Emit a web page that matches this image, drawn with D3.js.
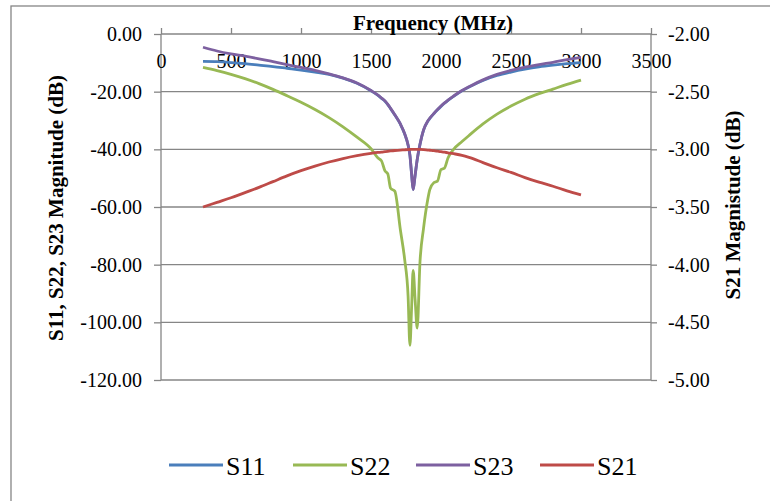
<!DOCTYPE html>
<html>
<head>
<meta charset="utf-8">
<script src="https://d3js.org/d3.v7.min.js"></script>
<style>
  body { margin: 0; background: #ffffff; }
  text { font-family: "Liberation Serif", "Times New Roman", serif; fill: #000; }
</style>
</head>
<body>
<div id="chart"></div>
<script>
// frequency points (MHz), shared by all series
var freqs = [300, 400, 500, 600, 700, 800, 900, 1000, 1100, 1200,
  1300, 1400, 1500, 1550, 1575, 1600, 1620, 1640, 1670, 1710,
  1740, 1765, 1778, 1790, 1801, 1815, 1830, 1850, 1875, 1905,
  1920, 1950, 1975, 2000, 2025, 2050, 2090, 2150, 2200, 2300,
  2400, 2500, 2600, 2700, 2800, 2900, 3000]

// S-parameters (dB)
var s11 = [-9.5, -9.6, -9.9, -10.3, -10.8, -11.3, -11.9, -12.5, -13.2, -14.0,
  -15.3, -17.1, -19.7, -21.3, -22.3, -23.3, -24.5, -25.9, -28.1, -31.3,
  -34.6, -38.6, -42.1, -48.6, -54.0, -49.1, -43.6, -38.3, -33.4, -30.3,
  -29.3, -27.6, -26.3, -25.1, -24.0, -23.0, -21.6, -19.7, -18.4, -16.1,
  -14.4, -13.2, -12.2, -11.4, -10.8, -10.3, -9.9]

var s22 = [-11.6, -12.7, -14.0, -15.5, -17.2, -19.2, -21.4, -23.7, -26.2, -29.0,
  -32.2, -35.8, -39.8, -43.0, -44.0, -47.5, -48.5, -53.5, -54.5, -68.0,
  -78.0, -91.0, -108.0, -95.0, -82.0, -92.0, -102.0, -79.0, -67.5, -57.5,
  -54.0, -51.5, -51.0, -47.0, -46.5, -43.0, -40.0, -37.3, -35.2, -31.2,
  -27.8, -25.0, -22.6, -20.7, -19.1, -17.5, -16.0]

var s23 = [-4.6, -5.9, -6.9, -7.7, -8.6, -9.6, -10.6, -11.6, -12.6, -13.8,
  -15.2, -17.0, -19.6, -21.2, -22.2, -23.2, -24.4, -25.8, -28.0, -31.2,
  -34.5, -38.5, -42.0, -48.5, -54.0, -49.0, -43.5, -38.2, -33.3, -30.2,
  -29.2, -27.5, -26.2, -25.0, -23.9, -22.9, -21.5, -19.6, -18.3, -15.9,
  -14.0, -12.6, -11.5, -10.6, -9.8, -8.9, -8.1]

// S21 is read against the right axis
var s21 = [-3.50, -3.46, -3.42, -3.375, -3.33, -3.28, -3.23, -3.185, -3.145, -3.11,
  -3.08, -3.055, -3.035, -3.027, -3.024, -3.02, -3.017, -3.014, -3.01, -3.006,
  -3.004, -3.002, -3.001, -3.0, -3.0, -3.0, -3.0, -3.001, -3.003, -3.006,
  -3.008, -3.012, -3.016, -3.02, -3.025, -3.03, -3.038, -3.052, -3.07, -3.115,
  -3.16, -3.20, -3.245, -3.285, -3.32, -3.36, -3.395]

// axis ticks
var xTicks = [0, 500, 1000, 1500, 2000, 2500, 3000, 3500]
var yLeftTicks = [0, -20, -40, -60, -80, -100, -120]
var yRightTicks = [-2, -2.5, -3, -3.5, -4, -4.5, -5]

var seriesNames = ["S11", "S22", "S23", "S21"]
var seriesColors = ["#4a7ebb", "#98b954", "#7d60a0", "#be4b48"]

var width = 770, height = 501
var plot = {left: 161, right: 651, top: 34, bottom: 380}

// plain hyphen for negatives, like the original
var loc = d3.formatLocale({decimal: ".", thousands: ",", grouping: [3], currency: ["", ""], minus: "-"})
var fmt2 = loc.format(".2f")

var svg = d3.select("#chart")
  .append("svg")
    .attr("width", width)
    .attr("height", height)

// outer chart frame (cut off by the picture on right and bottom)
svg.append("rect")
  .attr("x", 11).attr("y", 6)
  .attr("width", 820).attr("height", 540)
  .attr("fill", "none")
  .attr("stroke", "#868686")
  .attr("stroke-width", 1.3)

// scales
var x = d3.scaleLinear().domain([0, 3500]).range([plot.left, plot.right])
var yL = d3.scaleLinear().domain([-120, 0]).range([plot.bottom, plot.top])
var yR = d3.scaleLinear().domain([-5, -2]).range([plot.bottom, plot.top])

// horizontal gridlines
svg.append("g")
  .selectAll("line")
  .data(yLeftTicks)
  .enter()
  .append("line")
    .attr("x1", plot.left).attr("x2", plot.right)
    .attr("y1", function(d) { return yL(d); })
    .attr("y2", function(d) { return yL(d); })
    .attr("stroke", "#868686")
    .attr("stroke-width", 1.3)

// left axis
var leftAxis = svg.append("g")
  .attr("transform", "translate(" + plot.left + ",0)")
  .call(d3.axisLeft(yL).tickValues(yLeftTicks).tickSize(7).tickPadding(12).tickFormat(fmt2))
leftAxis.select(".domain").remove()
leftAxis.append("line")
  .attr("y1", plot.top).attr("y2", plot.bottom)
  .attr("stroke", "#868686").attr("stroke-width", 1.3)

// right axis (S21)
var rightAxis = svg.append("g")
  .attr("transform", "translate(" + plot.right + ",0)")
  .call(d3.axisRight(yR).tickValues(yRightTicks).tickSize(6).tickPadding(11).tickFormat(fmt2))
rightAxis.select(".domain").remove()
rightAxis.append("line")
  .attr("y1", plot.top).attr("y2", plot.bottom)
  .attr("stroke", "#868686").attr("stroke-width", 1.3)

// top frequency axis, labels sit below the line
var topAxis = svg.append("g")
  .attr("transform", "translate(0," + plot.top + ")")
  .call(d3.axisTop(x).tickValues(xTicks).tickSize(6).tickFormat(d3.format("d")))
topAxis.select(".domain").remove()
topAxis.selectAll("text")
  .attr("y", 34)
  .attr("dy", 0)

svg.selectAll(".tick line").attr("stroke", "#868686").attr("stroke-width", 1.3)
svg.selectAll(".tick text")
  .style("font-family", "'Liberation Serif', 'Times New Roman', serif")
  .style("font-size", "20px")
  .attr("fill", "#000")

// axis titles
svg.append("text")
  .attr("x", 433).attr("y", 30)
  .attr("text-anchor", "middle")
  .style("font-size", "21px")
  .style("font-weight", "bold")
  .text("Frequency (MHz)")

svg.append("text")
  .attr("transform", "translate(63,208)rotate(-90)")
  .attr("text-anchor", "middle")
  .style("font-size", "21px")
  .style("font-weight", "bold")
  .text("S11, S22, S23 Magnitude (dB)")

svg.append("text")
  .attr("transform", "translate(740,205)rotate(-90)")
  .attr("text-anchor", "middle")
  .style("font-size", "21px")
  .style("font-weight", "bold")
  .text("S21 Magnistude (dB)")

// series lines
var allSeries = [s11, s22, s23, s21]
allSeries.forEach(function(vals, i) {
  var yScale = (i == 3) ? yR : yL
  var line = d3.line()
    .x(function(d, j) { return x(freqs[j]); })
    .y(function(d) { return yScale(d); })
    .curve(d3.curveMonotoneX)
  svg.append("path")
    .datum(vals)
    .attr("d", line)
    .attr("fill", "none")
    .attr("stroke", seriesColors[i])
    .attr("stroke-width", 2.8)
    .attr("stroke-linejoin", "round")
})

// legend
var legendX = [169, 293, 416, 540]
var legend = svg.append("g")
  .selectAll("g")
  .data(seriesNames)
  .enter()
  .append("g")
    .attr("transform", function(d, i) { return "translate(" + legendX[i] + ",465)"; })
legend.append("line")
  .attr("x1", 0).attr("x2", 54)
  .attr("stroke", function(d, i) { return seriesColors[i]; })
  .attr("stroke-width", 2.8)
legend.append("text")
  .attr("x", 57).attr("y", 10)
  .style("font-size", "26px")
  .text(function(d) { return d; })
</script>
</body>
</html>
